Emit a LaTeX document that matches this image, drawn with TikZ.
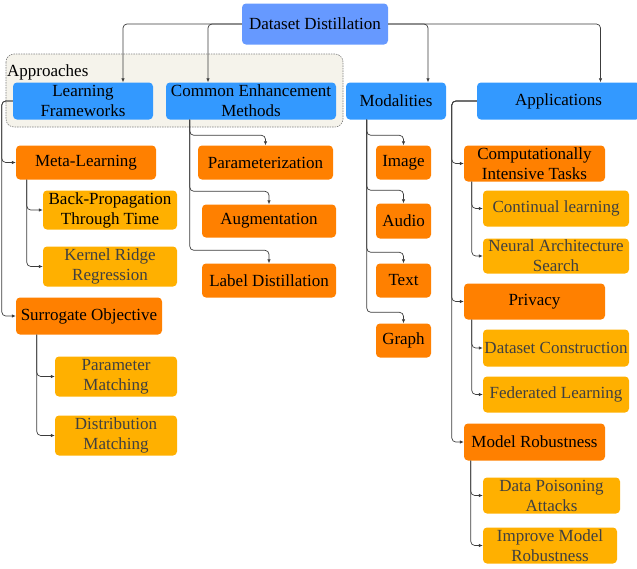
\documentclass[tikz,border=0pt]{standalone}
\usepackage{fontspec}
\setmainfont{Liberation Serif}
\newfontfamily\diagfont{Liberation Serif}
\usetikzlibrary{arrows.meta, calc}

\definecolor{rootblue}{RGB}{102,153,255}
\definecolor{catblue}{RGB}{51,153,255}
\definecolor{suborange}{RGB}{255,128,0}
\definecolor{leafamber}{RGB}{255,176,0}
\definecolor{groupfill}{RGB}{245,243,235}
\definecolor{linkgray}{RGB}{60,60,60}
\definecolor{leaftext}{RGB}{64,64,64}

\begin{document}
\begin{tikzpicture}[x=1pt, y=-1pt,
    box/.style={rounded corners=4pt, align=center, inner sep=0.5pt, font=\diagfont\fontsize{17}{20}\selectfont},
    rootbox/.style={box, fill=rootblue},
    catbox/.style={box, fill=catblue},
    subbox/.style={box, fill=suborange},
    leafbox/.style={box, fill=leafamber, text=leaftext},
    link/.style={draw=linkgray, line width=0.7pt, rounded corners=4pt, -{Latex[length=4pt,width=3.5pt]}}]
    \useasboundingbox (0,0) rectangle (637,568);

    \draw[rounded corners=8pt, fill=groupfill, draw=gray, dash pattern=on 1.5pt off 1pt, line width=0.6pt] (6,54) rectangle (343,127);
    \node[anchor=base west, inner sep=0, font=\diagfont\fontsize{17}{20}\selectfont] (apr) at (7,76) {Approaches};

    \node[rootbox, minimum width=146, minimum height=41] (dd) at (315,24) {Dataset Distillation};

    \node[catbox, minimum width=140, minimum height=37] (lf) at (83,101) {Learning\\Frameworks};
    \node[catbox, minimum width=170, minimum height=37] (cem) at (251,101) {Common Enhancement\\Methods};
    \node[catbox, minimum width=100, minimum height=37] (mod) at (396,101) {Modalities};
    \node[catbox, minimum width=163, minimum height=37] (app) at (558.5,101) {Applications};

    % learning frameworks
    \node[subbox, minimum width=140, minimum height=34] (ml) at (86,162.5) {Meta-Learning};
    \node[leafbox, text=black, minimum width=134, minimum height=39] (bptt) at (110,210) {Back-Propagation\\Through Time};
    \node[leafbox, minimum width=134, minimum height=40] (krr) at (110,266.5) {Kernel Ridge\\Regression};
    \node[subbox, minimum width=146, minimum height=37] (so) at (89,316) {Surrogate Objective};
    \node[leafbox, minimum width=122, minimum height=40] (pm) at (116,376.5) {Parameter\\Matching};
    \node[leafbox, minimum width=122, minimum height=40] (dm) at (116,435.5) {Distribution\\Matching};

    % enhancement methods
    \node[subbox, minimum width=135, minimum height=34] (par) at (265.5,162.5) {Parameterization};
    \node[subbox, minimum width=134, minimum height=33] (aug) at (269,221) {Augmentation};
    \node[subbox, minimum width=134, minimum height=34] (ld) at (269,280.5) {Label Distillation};

    % modalities
    \node[subbox, minimum width=55, minimum height=34] (img) at (403.5,162.5) {Image};
    \node[subbox, minimum width=55, minimum height=35] (aud) at (403.5,221) {Audio};
    \node[subbox, minimum width=55, minimum height=34] (txt) at (403.5,280.5) {Text};
    \node[subbox, minimum width=55, minimum height=34] (gra) at (403.5,340.5) {Graph};

    % applications
    \node[subbox, minimum width=141, minimum height=36] (cit) at (534.5,163.5) {Computationally\\Intensive Tasks};
    \node[leafbox, minimum width=146, minimum height=36] (cl) at (556,208.5) {Continual learning};
    \node[leafbox, minimum width=146, minimum height=35] (nas) at (556,256) {Neural Architecture\\Search};
    \node[subbox, minimum width=141, minimum height=36] (pri) at (534.5,301.5) {Privacy};
    \node[leafbox, minimum width=146, minimum height=37] (dc) at (556,348) {Dataset Construction};
    \node[leafbox, minimum width=146, minimum height=36] (fl) at (556,394.5) {Federated Learning};
    \node[subbox, minimum width=141, minimum height=37] (mr) at (534.5,442) {Model Robustness};
    \node[leafbox, minimum width=137, minimum height=36] (dpa) at (551.5,495.5) {Data Poisoning\\Attacks};
    \node[leafbox, minimum width=134, minimum height=36] (imr) at (550,545.5) {Improve Model\\Robustness};

    % root links
    \draw[link] (dd.west) -| ([xshift=40pt]lf.north);
    \draw[link] (dd.west) -| ([xshift=-43pt]cem.north);
    \draw[link] (dd.east) -| ([xshift=32pt]mod.north);
    \draw[link] (dd.east) -| ([xshift=42pt]app.north);

    \draw[link] (lf.west) -- ++(-11,0) |- (ml.west);
    \draw[link] (lf.west) -- ++(-11,0) |- (so.west);
    \draw[link] ([xshift=11pt]ml.south west) |- (bptt.west);
    \draw[link] ([xshift=11pt]ml.south west) |- (krr.west);
    \draw[link] ([xshift=21pt]so.south west) |- (pm.west);
    \draw[link] ([xshift=21pt]so.south west) |- (dm.west);

    \draw[link] ([xshift=24pt]cem.south west) |- ([yshift=10pt]par.north) -- (par.north);
    \draw[link] ([xshift=24pt]cem.south west) |- ([yshift=13pt]aug.north) -- (aug.north);
    \draw[link] ([xshift=24pt]cem.south west) |- ([yshift=13pt]ld.north) -- (ld.north);

    \draw[link] ([xshift=21pt]mod.south west) |- ([yshift=10pt]img.north) -- (img.north);
    \draw[link] ([xshift=21pt]mod.south west) |- ([yshift=13pt]aud.north) -- (aud.north);
    \draw[link] ([xshift=21pt]mod.south west) |- ([yshift=11pt]txt.north) -- (txt.north);
    \draw[link] ([xshift=21pt]mod.south west) |- ([yshift=11pt]gra.north) -- (gra.north);

    \draw[link] (app.west) -- ++(-25,0) |- (cit.west);
    \draw[link] (app.west) -- ++(-25,0) |- (pri.west);
    \draw[link] (app.west) -- ++(-25,0) |- (mr.west);
    \draw[link] ([xshift=8pt]cit.south west) |- (cl.west);
    \draw[link] ([xshift=8pt]cit.south west) |- (nas.west);
    \draw[link] ([xshift=8pt]pri.south west) |- (dc.west);
    \draw[link] ([xshift=8pt]pri.south west) |- (fl.west);
    \draw[link] ([xshift=7pt]mr.south west) |- (dpa.west);
    \draw[link] ([xshift=7pt]mr.south west) |- (imr.west);
\end{tikzpicture}
\end{document}
